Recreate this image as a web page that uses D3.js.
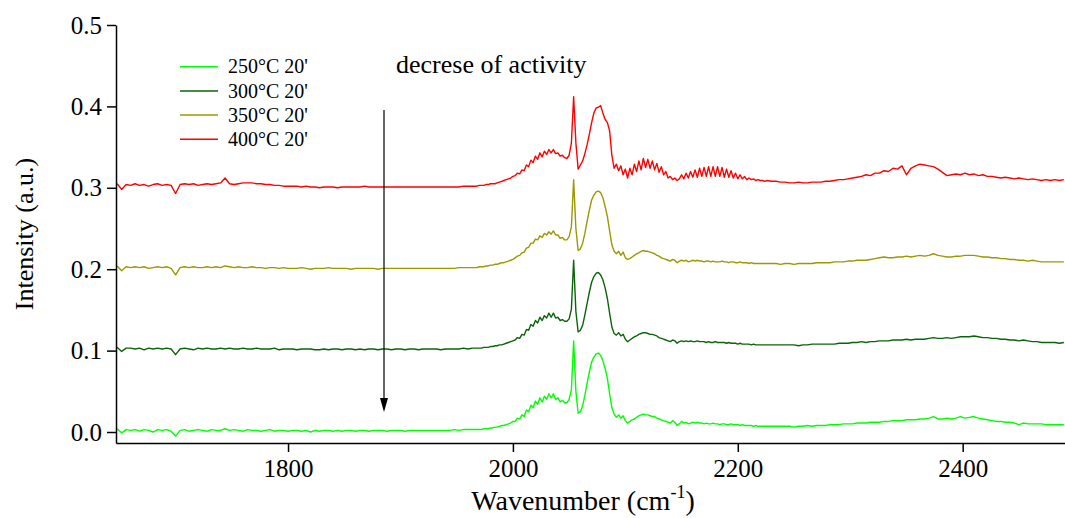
<!DOCTYPE html>
<html>
<head>
<meta charset="utf-8">
<script src="https://cdn.jsdelivr.net/npm/d3@7"></script>
<style>
  body { margin: 0; background: #fff; }
  svg { display: block; }
  text { font-family: "Liberation Serif", "Times New Roman", serif; fill: #000; }
</style>
</head>
<body>
<svg id="chart" width="1065" height="518"></svg>
<script>
// Wavenumber grid (cm^-1): 4 cm^-1 spacing on the flat wings, 2 cm^-1 across the CO bands
const wavenumbers = [
  1648,1652,1656,1660,1664,1668,1672,1676,1680,1684,
  1688,1692,1696,1700,1704,1708,1712,1716,1720,1724,
  1728,1732,1736,1740,1744,1748,1752,1756,1760,1764,
  1768,1772,1776,1780,1784,1788,1792,1796,1800,1804,
  1808,1812,1816,1820,1824,1828,1832,1836,1840,1844,
  1848,1852,1856,1860,1864,1868,1872,1876,1880,1884,
  1888,1892,1896,1900,1904,1908,1912,1916,1920,1924,
  1928,1932,1936,1940,1944,1948,1952,1956,1960,1964,
  1968,1970,1972,1974,1976,1978,1980,1982,1984,1986,
  1988,1990,1992,1994,1996,1998,2000,2002,2004,2006,
  2008,2010,2012,2014,2016,2018,2020,2022,2024,2026,
  2028,2030,2032,2034,2036,2038,2040,2042,2044,2046,
  2048,2050,2052,2054,2056,2058,2060,2062,2064,2066,
  2068,2070,2072,2074,2076,2078,2080,2082,2084,2086,
  2088,2090,2092,2094,2096,2098,2100,2102,2104,2106,
  2108,2110,2112,2114,2116,2118,2120,2122,2124,2126,
  2128,2130,2132,2134,2136,2138,2140,2142,2144,2146,
  2148,2150,2152,2154,2156,2158,2160,2162,2164,2166,
  2168,2170,2172,2174,2176,2178,2180,2182,2184,2186,
  2188,2190,2192,2194,2196,2198,2200,2202,2204,2206,
  2208,2210,2212,2214,2216,2218,2220,2222,2224,2226,
  2230,2234,2238,2242,2246,2250,2254,2258,2262,2266,
  2270,2274,2278,2282,2286,2290,2294,2298,2302,2306,
  2310,2314,2318,2322,2326,2330,2334,2338,2342,2346,
  2350,2354,2358,2362,2366,2370,2374,2378,2382,2386,
  2390,2394,2398,2402,2406,2410,2414,2418,2422,2426,
  2430,2434,2438,2442,2446,2450,2454,2458,2462,2466,
  2470,2474,2478,2482,2486,2490
];

// Absorbance of each spectrum (a.u.), before stacking
const s250 = [
  .004,-.001,.003,.002,.003,.001,.003,.002,.000,.003,
  .002,.003,.001,-.005,.002,.003,.001,.002,.003,.002,
  .001,.003,.002,.002,.004,.002,.003,.002,.001,.003,
  .002,.002,.001,.002,.003,.001,.002,.002,.001,.002,
  .002,.001,.002,.000,.002,.001,.002,.002,.001,.002,
  .001,.002,.002,.001,.002,.002,.001,.002,.002,.002,
  .001,.002,.002,.002,.001,.002,.002,.002,.002,.002,
  .002,.002,.002,.002,.002,.003,.002,.003,.003,.003,
  .003,.003,.003,.004,.004,.004,.005,.005,.006,.006,
  .007,.008,.008,.009,.010,.011,.013,.013,.017,.016,
  .021,.019,.027,.025,.033,.030,.038,.034,.042,.037,
  .044,.040,.047,.042,.047,.040,.042,.037,.039,.036,
  .036,.040,.052,.112,.050,.023,.025,.032,.045,.060,
  .074,.086,.092,.096,.097,.094,.088,.078,.066,.047,
  .030,.022,.018,.021,.017,.020,.014,.011,.013,.015,
  .016,.018,.020,.021,.022,.021,.021,.020,.019,.019,
  .017,.016,.015,.014,.013,.012,.011,.014,.012,.008,
  .010,.013,.011,.012,.010,.011,.012,.011,.012,.011,
  .011,.010,.011,.010,.010,.011,.010,.010,.009,.010,
  .010,.009,.009,.010,.009,.009,.009,.008,.009,.008,
  .008,.008,.008,.007,.008,.007,.007,.007,.007,.007,
  .007,.007,.007,.007,.007,.006,.007,.007,.008,.007,
  .008,.008,.008,.009,.009,.009,.010,.010,.010,.011,
  .011,.011,.012,.012,.012,.013,.013,.014,.014,.014,
  .015,.015,.015,.016,.016,.017,.019,.016,.016,.017,
  .016,.017,.019,.017,.018,.019,.017,.016,.015,.014,
  .013,.013,.012,.012,.011,.009,.011,.010,.010,.010,
  .010,.009,.009,.009,.009,.009
];

const s300 = [
  .004,-.001,.003,.003,.002,.003,.001,.003,.002,.003,
  .002,.003,.002,-.005,.002,.003,.002,.001,.003,.002,
  .003,.002,.002,.003,.002,.003,.002,.002,.003,.002,
  .002,.003,.002,.002,.002,.003,.001,.002,.002,.002,
  .001,.002,.002,.002,.001,.001,.002,.001,.002,.002,
  .001,.002,.002,.001,.002,.001,.002,.002,.001,.002,
  .002,.001,.002,.002,.001,.002,.002,.001,.002,.002,
  .002,.002,.001,.002,.002,.002,.002,.003,.002,.003,
  .003,.003,.003,.004,.004,.004,.005,.005,.006,.006,
  .007,.007,.008,.009,.010,.011,.012,.013,.016,.015,
  .020,.019,.026,.025,.032,.030,.037,.034,.041,.037,
  .043,.040,.046,.041,.046,.040,.041,.037,.038,.036,
  .036,.039,.051,.111,.048,.023,.025,.031,.044,.058,
  .072,.084,.091,.095,.096,.093,.087,.077,.064,.046,
  .029,.021,.019,.022,.018,.020,.014,.011,.013,.015,
  .017,.018,.020,.021,.022,.022,.021,.020,.020,.019,
  .018,.016,.015,.014,.013,.012,.011,.013,.012,.009,
  .011,.012,.011,.012,.011,.012,.011,.011,.012,.011,
  .011,.011,.010,.011,.010,.010,.011,.010,.010,.010,
  .010,.009,.010,.009,.009,.009,.008,.009,.008,.008,
  .008,.008,.007,.008,.007,.007,.007,.007,.007,.007,
  .007,.007,.007,.007,.007,.007,.006,.007,.007,.008,
  .008,.008,.008,.008,.008,.009,.009,.009,.010,.010,
  .011,.010,.011,.011,.012,.012,.012,.013,.013,.013,
  .014,.013,.014,.014,.014,.015,.016,.015,.015,.016,
  .015,.016,.017,.017,.017,.018,.017,.016,.016,.015,
  .015,.014,.014,.013,.013,.012,.013,.012,.011,.011,
  .010,.010,.010,.010,.009,.010
];

const s350 = [
  .004,-.002,.003,.002,.003,.002,.003,.001,.002,.003,
  .002,.003,.001,-.007,.002,.003,.002,.003,.002,.002,
  .003,.002,.003,.002,.004,.003,.002,.003,.002,.002,
  .003,.002,.002,.001,.002,.002,.001,.002,.001,.001,
  .001,.002,.001,.000,.001,.001,.001,.002,.001,.001,
  .001,.001,.000,.001,.001,.001,.001,.001,.000,.001,
  .001,.001,.001,.001,.001,.001,.001,.001,.001,.001,
  .001,.001,.001,.001,.001,.001,.002,.002,.002,.002,
  .002,.003,.003,.003,.004,.004,.005,.005,.006,.006,
  .007,.008,.008,.009,.010,.011,.012,.014,.016,.017,
  .020,.021,.026,.027,.032,.032,.037,.036,.041,.039,
  .044,.042,.046,.043,.047,.042,.042,.038,.039,.036,
  .036,.040,.052,.110,.050,.023,.025,.032,.044,.059,
  .073,.085,.091,.095,.096,.094,.088,.077,.065,.047,
  .030,.022,.019,.022,.017,.021,.014,.012,.013,.015,
  .017,.019,.020,.022,.023,.022,.022,.021,.020,.019,
  .017,.016,.014,.013,.012,.011,.010,.012,.011,.008,
  .010,.011,.010,.011,.009,.010,.011,.010,.011,.010,
  .010,.009,.010,.010,.009,.010,.009,.009,.009,.010,
  .009,.009,.008,.009,.009,.008,.008,.009,.008,.008,
  .008,.007,.008,.007,.007,.007,.007,.007,.007,.007,
  .007,.007,.006,.007,.007,.006,.007,.007,.007,.007,
  .008,.008,.008,.008,.009,.009,.009,.010,.010,.011,
  .011,.011,.012,.013,.014,.015,.014,.014,.015,.015,
  .016,.015,.016,.017,.016,.017,.019,.017,.016,.015,
  .015,.016,.016,.017,.017,.017,.016,.015,.015,.014,
  .014,.013,.013,.012,.012,.011,.011,.010,.011,.010,
  .009,.009,.009,.009,.009,.009
];

const s400 = [
  .005,-.002,.004,.003,.005,.003,.004,.002,.004,.005,
  .003,.004,.003,-.007,.004,.005,.004,.005,.003,.004,
  .005,.004,.005,.006,.012,.005,.004,.005,.006,.006,
  .006,.005,.005,.004,.004,.003,.003,.002,.002,.002,
  .002,.001,.002,.001,.001,.000,.001,.001,.001,.000,
  .001,.001,.001,.001,.001,.002,.001,.001,.001,.001,
  .001,.001,.001,.001,.001,.001,.001,.001,.001,.001,
  .001,.001,.001,.001,.001,.001,.001,.002,.002,.002,
  .002,.003,.003,.003,.004,.004,.005,.005,.005,.006,
  .007,.008,.009,.010,.011,.012,.014,.015,.018,.017,
  .022,.021,.028,.026,.034,.031,.039,.035,.043,.038,
  .045,.041,.047,.043,.047,.042,.043,.039,.040,.037,
  .036,.040,.055,.112,.055,.023,.028,.033,.042,.053,
  .066,.080,.092,.098,.099,.101,.092,.084,.080,.070,
  .040,.024,.029,.021,.027,.016,.023,.012,.024,.016,
  .029,.020,.033,.022,.036,.025,.035,.024,.033,.022,
  .030,.019,.026,.016,.020,.012,.014,.010,.012,.009,
  .011,.016,.011,.018,.012,.020,.013,.022,.013,.024,
  .014,.025,.014,.026,.014,.026,.014,.026,.014,.025,
  .013,.023,.013,.021,.012,.018,.011,.016,.011,.014,
  .010,.012,.010,.011,.009,.010,.009,.009,.008,.009,
  .008,.008,.007,.007,.006,.006,.007,.006,.006,.007,
  .007,.007,.008,.008,.009,.010,.010,.011,.012,.013,
  .014,.016,.015,.018,.018,.021,.020,.024,.023,.027,
  .016,.024,.027,.029,.028,.027,.026,.023,.019,.015,
  .016,.017,.016,.018,.016,.017,.015,.016,.014,.014,
  .013,.012,.013,.012,.011,.012,.011,.010,.011,.010,
  .009,.010,.009,.010,.009,.010
];

// Vertical offsets used to stack the spectra
const offsets = [0, 0.1, 0.2, 0.3];
const seriesLabels = ["250°C 20'", "300°C 20'", "350°C 20'", "400°C 20'"];
const seriesColors = ["#00ff00", "#0a640a", "#9c9800", "#ff0000"];

const xTicks = [1800, 2000, 2200, 2400];
const yTicks = [0.0, 0.1, 0.2, 0.3, 0.4, 0.5];

const spectra = [s250, s300, s350, s400].map((vals, i) => ({
  label: seriesLabels[i],
  color: seriesColors[i],
  points: wavenumbers.map((w, j) => [w, vals[j] + offsets[i]])
}));
[s250, s300, s350, s400].forEach((v, i) => {
  if (v.length !== wavenumbers.length) console.error("length mismatch", seriesLabels[i], v.length, wavenumbers.length);
});

const serif = '"Liberation Serif", "Times New Roman", serif';
const svg = d3.select("#chart");
const plot = { left: 116, right: 1065, top: 25, bottom: 443 };

const x = d3.scaleLinear().domain([1647, 2491]).range([plot.left, plot.right]);
const y = d3.scaleLinear().domain([-0.0135, 0.5]).range([plot.bottom, plot.top]);

svg.append("defs").append("clipPath").attr("id", "plot-clip")
  .append("rect")
  .attr("x", plot.left).attr("y", 0)
  .attr("width", plot.right - plot.left).attr("height", plot.bottom);

// spectra
const line = d3.line().x(d => x(d[0])).y(d => y(d[1]));
svg.append("g").attr("clip-path", "url(#plot-clip)")
  .selectAll("path")
  .data(spectra)
  .join("path")
  .attr("d", d => line(d.points))
  .attr("fill", "none")
  .attr("stroke", d => d.color)
  .attr("stroke-width", 1.4)
  .attr("stroke-linejoin", "round");

// axes
const yAxis = d3.axisLeft(y).tickValues(yTicks).tickFormat(d3.format(".1f"))
  .tickSize(9).tickSizeOuter(0).tickPadding(5);
const xAxis = d3.axisBottom(x).tickValues(xTicks).tickFormat(d3.format("d"))
  .tickSize(9).tickSizeOuter(0).tickPadding(7);

const gy = svg.append("g").attr("transform", `translate(${plot.left},0)`).call(yAxis);
const gx = svg.append("g").attr("transform", `translate(0,${plot.bottom})`).call(xAxis);
[gx, gy].forEach(g => {
  g.attr("font-family", null).attr("font-size", null);
  g.selectAll("path, line").attr("stroke", "#000").attr("stroke-width", 1.5);
  g.selectAll("text")
    .style("font-family", serif)
    .style("font-size", "25px")
    .style("fill", "#000");
});

// axis titles
svg.append("text")
  .attr("transform", `translate(33,${(plot.top + plot.bottom) / 2}) rotate(-90)`)
  .attr("text-anchor", "middle")
  .style("font-size", "26px")
  .text("Intensity (a.u.)");

const xt = svg.append("text")
  .attr("x", 583)
  .attr("y", 510)
  .attr("text-anchor", "middle")
  .style("font-size", "28px");
xt.append("tspan").text("Wavenumber (cm");
xt.append("tspan").style("font-size", "18px").attr("dy", -12).text("-1");
xt.append("tspan").attr("dy", 12).text(")");

// legend
const legend = svg.append("g").selectAll("g")
  .data(spectra)
  .join("g")
  .attr("transform", (d, i) => `translate(180,${66.7 + i * 24.2})`);
legend.append("line")
  .attr("x1", 0).attr("x2", 38)
  .attr("stroke", d => d.color).attr("stroke-width", 1.5);
legend.append("text")
  .attr("x", 48).attr("dy", "0.33em")
  .style("font-size", "20px")
  .text(d => d.label);

// annotation
svg.append("text")
  .attr("x", 396).attr("y", 73)
  .style("font-size", "26px")
  .text("decrese of activity");

svg.append("line")
  .attr("x1", 384).attr("x2", 384)
  .attr("y1", 110).attr("y2", 400)
  .attr("stroke", "#000").attr("stroke-width", 1.2);
svg.append("path")
  .attr("d", "M380,398 L388,398 L384,412 Z")
  .attr("fill", "#000");
</script>
</body>
</html>
